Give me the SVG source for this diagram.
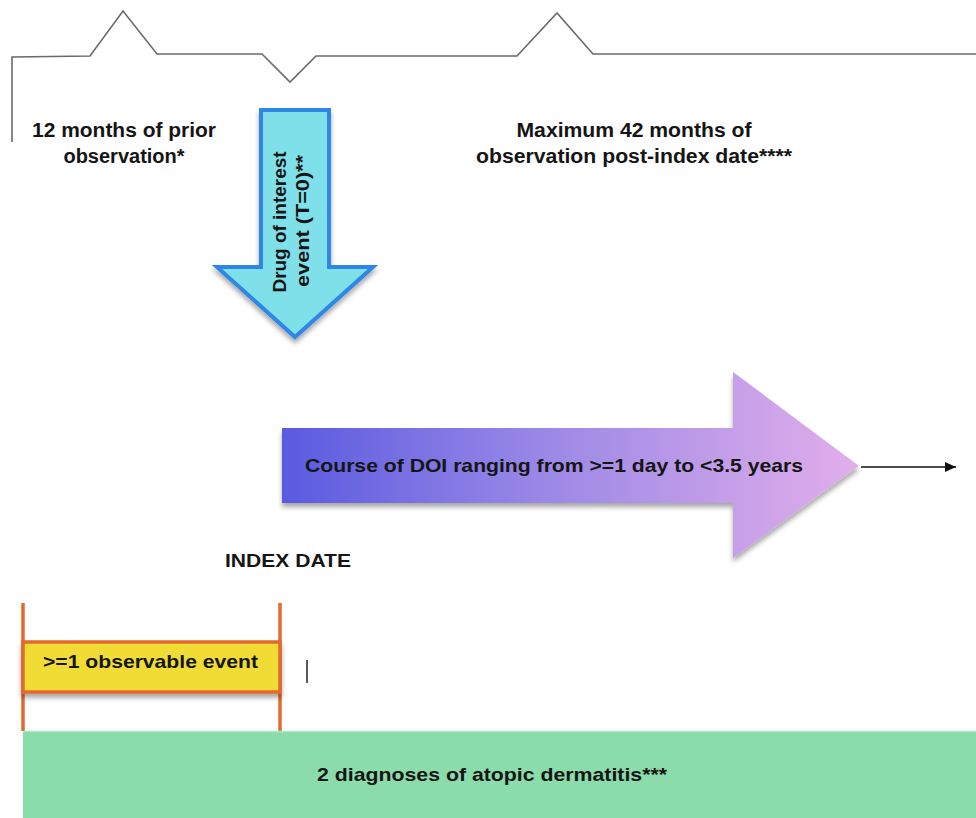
<svg xmlns="http://www.w3.org/2000/svg" width="976" height="818" viewBox="0 0 976 818">
<defs>
<style>
.t{font-family:"Liberation Sans",Arial,sans-serif;font-weight:bold;fill:#151515;}
.brace{fill:none;stroke:#6a6a6a;stroke-width:1.6;stroke-linejoin:miter;}
.orange{stroke:#e4692e;stroke-width:3.5;fill:none;}
</style>
<linearGradient id="purp" x1="282" y1="0" x2="860" y2="0" gradientUnits="userSpaceOnUse">
<stop offset="0" stop-color="#5a5ae0"/>
<stop offset="0.45" stop-color="#9a88e6"/>
<stop offset="1" stop-color="#e2aeea"/>
</linearGradient>
<filter id="sh" x="-10%" y="-10%" width="120%" height="130%">
<feGaussianBlur in="SourceAlpha" stdDeviation="2.5"/>
<feOffset dx="0" dy="4" result="b"/>
<feComponentTransfer><feFuncA type="linear" slope="0.35"/></feComponentTransfer>
<feMerge><feMergeNode/><feMergeNode in="SourceGraphic"/></feMerge>
</filter>
<marker id="ah" markerWidth="12" markerHeight="10" refX="11" refY="5" orient="auto" markerUnits="userSpaceOnUse">
<path d="M0,0 L11,5 L0,10 Z" fill="#111"/>
</marker>
</defs>
<rect width="976" height="818" fill="#ffffff"/>

<g id="brace">
<path class="brace" d="M12,142 L12,57 L90,56 L123,11 L157,54 L262,54 L290,82 L316,56 L517,56 L557,13 L593,54 L976,54"/>
</g>

<g id="prior-label">
<text class="t" x="124" y="137" font-size="20" text-anchor="middle" textLength="184" lengthAdjust="spacingAndGlyphs">12 months of prior</text>
<text class="t" x="124" y="163" font-size="20" text-anchor="middle">observation*</text>
</g>

<g id="post-label">
<text class="t" x="634" y="137" font-size="20" text-anchor="middle" textLength="235" lengthAdjust="spacingAndGlyphs">Maximum 42 months of</text>
<text class="t" x="634" y="163" font-size="20" text-anchor="middle" textLength="316" lengthAdjust="spacingAndGlyphs">observation post-index date****</text>
</g>

<g id="drug-arrow">
<path d="M261,110 L329,110 L329,267 L373,267 L295,337 L217,267 L261,267 Z" fill="#7fe0ea" stroke="#2f86e6" stroke-width="4" stroke-linejoin="miter" filter="url(#sh)"/>
<text class="t" font-size="19" text-anchor="middle" transform="translate(286,222) rotate(-90)" textLength="141" lengthAdjust="spacingAndGlyphs">Drug of interest</text>
<text class="t" font-size="19" text-anchor="middle" transform="translate(309,221) rotate(-90)" textLength="132" lengthAdjust="spacingAndGlyphs">event (T=0)**</text>
</g>

<g id="doi-arrow">
<path d="M282,428 L733,428 L733,372 L859,466 L733,558 L733,503 L282,503 Z" fill="url(#purp)" filter="url(#sh)"/>
<text class="t" x="305" y="472" font-size="19" textLength="498" lengthAdjust="spacingAndGlyphs">Course of DOI ranging from &gt;=1 day to &lt;3.5 years</text>
</g>

<g id="connectors">
<line x1="861" y1="467" x2="956" y2="467" stroke="#111" stroke-width="1.6" marker-end="url(#ah)"/>
</g>

<g id="index-date">
<text class="t" x="225" y="567" font-size="19" textLength="126" lengthAdjust="spacingAndGlyphs">INDEX DATE</text>
</g>

<g id="observable-event">
<line class="orange" x1="23" y1="603" x2="23" y2="731"/>
<line class="orange" x1="280" y1="603" x2="280" y2="731"/>
<rect x="23" y="642" width="257" height="50" fill="#f1dc36" stroke="#e4692e" stroke-width="3.5" filter="url(#sh)"/>
<text class="t" x="43" y="668" font-size="19" textLength="215" lengthAdjust="spacingAndGlyphs">&gt;=1 observable event</text>
</g>

<g id="cursor">
<line x1="307" y1="660" x2="307" y2="683" stroke="#222" stroke-width="1.5"/>
</g>

<g id="atopic">
<rect x="23" y="731" width="953" height="87" fill="#8adcab"/>
<line x1="23" y1="731.5" x2="976" y2="731.5" stroke="#a6ecc2" stroke-width="1.5"/>
<text class="t" x="317" y="781" font-size="19" textLength="350" lengthAdjust="spacingAndGlyphs">2 diagnoses of atopic dermatitis***</text>
</g>
</svg>
